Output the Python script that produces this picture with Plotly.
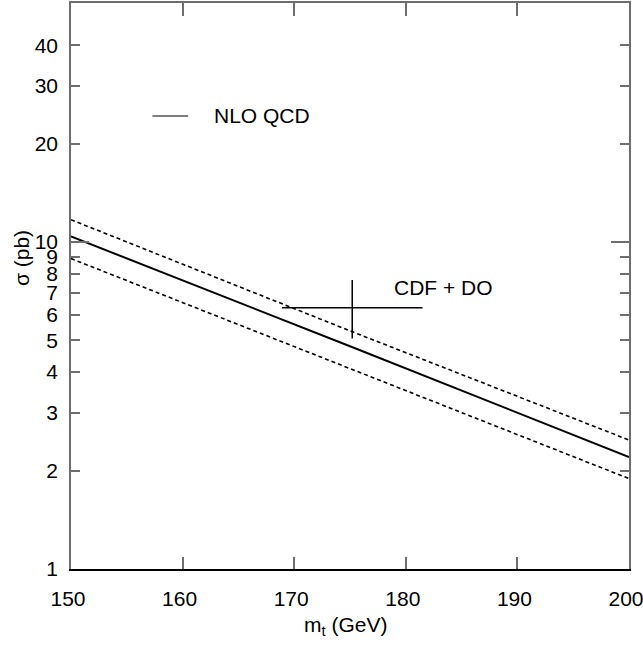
import plotly.graph_objects as go
import math

# ---- data ----
mt = [150, 175, 200]
sigma_nlo = [10.4, 4.8, 2.2]
sigma_upper = [11.7, 5.35, 2.48]
sigma_lower = [8.9, 4.1, 1.89]

exp_mt = [175.2]
exp_sigma = [6.3]
exp_mt_err = [6.3]
exp_sigma_plus = [1.35]
exp_sigma_minus = [1.23]

x_ticks = [150, 160, 170, 180, 190, 200]
y_ticks = [1, 2, 3, 4, 5, 6, 7, 8, 9, 10, 20, 30, 40]
y_major = [1, 10]

FONT = "Liberation Sans, Arial, sans-serif"
GRAY = "#6e6e6e"

fig = go.Figure()

fig.add_trace(go.Scatter(x=mt, y=sigma_upper, mode="lines",
                         line=dict(color="black", width=1.6, dash="4px,3px"),
                         showlegend=False))
fig.add_trace(go.Scatter(x=mt, y=sigma_nlo, mode="lines",
                         line=dict(color="black", width=2),
                         showlegend=False))
fig.add_trace(go.Scatter(x=mt, y=sigma_lower, mode="lines",
                         line=dict(color="black", width=1.6, dash="4px,3px"),
                         showlegend=False))
fig.add_trace(go.Scatter(x=exp_mt, y=exp_sigma, mode="markers",
                         marker=dict(size=1, color="black", opacity=0),
                         error_x=dict(type="data", array=exp_mt_err, width=0,
                                      thickness=1.5, color="black"),
                         error_y=dict(type="data", symmetric=False,
                                      array=exp_sigma_plus,
                                      arrayminus=exp_sigma_minus, width=0,
                                      thickness=1.5, color="black"),
                         showlegend=False))

yr = [0, 1.731]

fig.update_layout(
    width=643, height=645,
    margin=dict(l=71, r=14, t=3, b=76, autoexpand=False),
    plot_bgcolor="white", paper_bgcolor="white",
    font=dict(family=FONT, size=21, color="black"),
    showlegend=False,
    xaxis=dict(range=[150, 200], tickvals=x_ticks, ticktext=[str(v) for v in x_ticks],
               ticks="inside", ticklen=12, tickcolor=GRAY, tickwidth=1.5,
               showline=True, linecolor="black", linewidth=1.5, mirror=False,
               showgrid=False, zeroline=False, ticklabelstandoff=10,
               ticklabelshift=-3,
               ticklabeloverflow="allow", automargin=False,
               tickfont=dict(size=21)),
    xaxis2=dict(range=[150, 200], overlaying="x", side="top", anchor="y",
                tickvals=x_ticks, ticks="inside", ticklen=13, tickcolor=GRAY,
                tickwidth=1.5, showticklabels=False, showline=True,
                linecolor=GRAY, linewidth=1.5, showgrid=False, zeroline=False,
                automargin=False),
    yaxis=dict(type="log", range=yr, tickvals=y_ticks,
               ticktext=[str(v) for v in y_ticks],
               ticks="inside", ticklen=9, tickcolor=GRAY, tickwidth=1.5,
               showline=True, linecolor=GRAY, linewidth=1.5, mirror="ticks",
               showgrid=False, zeroline=False, ticklabelstandoff=7,
               automargin=False, tickfont=dict(size=21)),
    yaxis2=dict(type="log", range=yr, overlaying="y", anchor="x",
                tickvals=y_major, ticks="inside", ticklen=18, tickcolor=GRAY,
                tickwidth=1.5, showticklabels=False, mirror="ticks",
                showline=False, showgrid=False, zeroline=False,
                automargin=False),
)

# attach an empty trace to the secondary axes so they are drawn
fig.add_trace(go.Scatter(x=[None], y=[None], xaxis="x2", yaxis="y2",
                         showlegend=False, hoverinfo="skip"))

# legend-like key
fig.add_shape(type="line", xref="x", yref="y",
              x0=157.3, x1=160.5, y0=24.3, y1=24.3,
              line=dict(color="#555555", width=1.5))
fig.add_annotation(x=162.6, y=math.log10(24.3), xref="x", yref="y",
                   text="NLO QCD", showarrow=False, xanchor="left",
                   yanchor="middle", font=dict(size=21))
fig.add_annotation(x=178.8, y=0.861, xref="x", yref="y",
                   text="CDF + DO", showarrow=False, xanchor="left",
                   yanchor="middle", font=dict(size=21))

# axis titles
fig.add_annotation(x=-0.09, y=0.549, xref="paper", yref="paper",
                   text="σ (pb)", textangle=-90, showarrow=False,
                   xanchor="center", yanchor="middle", font=dict(size=21))
fig.add_annotation(x=0.4925, y=-0.1, xref="paper", yref="paper",
                   text="m<sub>t</sub> (GeV)", showarrow=False,
                   xanchor="center", yanchor="middle", font=dict(size=21))

fig.write_html("out.html", config={"displayModeBar": False},
               post_script="document.body.style.margin='0';document.body.style.overflow='hidden';")
